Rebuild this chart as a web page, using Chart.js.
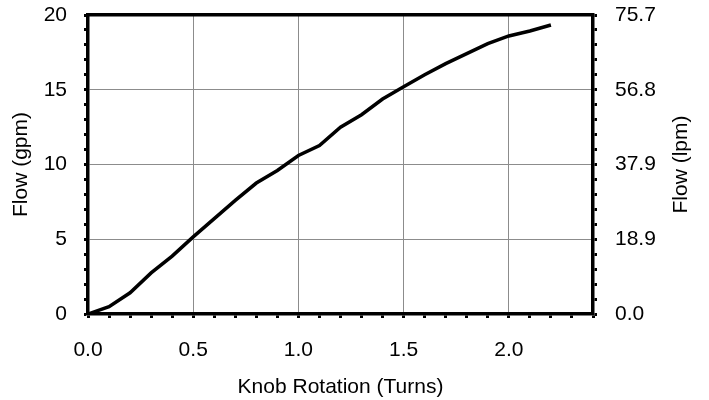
<!DOCTYPE html>
<html>
<head>
<meta charset="utf-8">
<script src="https://cdn.jsdelivr.net/npm/chart.js@4"></script>
<style>
  html, body { margin: 0; padding: 0; background: #fff; }
  #wrap { width: 709px; height: 400px; }
</style>
</head>
<body>
<div id="wrap"><canvas id="chart" width="709" height="400"></canvas></div>
<script>
const turns = [0.0, 0.1, 0.2, 0.3, 0.4, 0.5, 0.6, 0.7, 0.8, 0.9, 1.0, 1.1,
  1.2, 1.3, 1.4, 1.5, 1.6, 1.7, 1.8, 1.9, 2.0, 2.1, 2.2];
const flowGpm = [0, 0.49, 1.42, 2.75, 3.87, 5.16, 6.38, 7.6, 8.76, 9.6, 10.6, 11.27,
  12.49, 13.33, 14.38, 15.2, 16.0, 16.75, 17.42, 18.09, 18.6, 18.93, 19.33];
const lpmLabels = ["0.0", "18.9", "37.9", "56.8", "75.7"];
const rightTitle = "Flow (lpm)";

Chart.defaults.font.family = "'Liberation Sans', Arial, sans-serif";
Chart.defaults.font.size = 21;
Chart.defaults.color = "#000";

const isMajorX = v => Math.round(v * 10) % 5 === 0;
const isMajorY = v => Math.round(v) % 5 === 0;

const gridCommon = {
  drawTicks: true,
  tickLength: 4,
  tickWidth: 3,
  tickColor: "#000"
};

// no extra room for overflowing tick labels, the plot box is fixed
const noPad = s => { s.paddingTop = 0; s.paddingBottom = 0; s.paddingLeft = 0; s.paddingRight = 0; };

// right title reads bottom-to-top like the left one
const rightTitlePlugin = {
  id: "rightTitle",
  afterDraw(chart) {
    const { ctx, chartArea } = chart;
    ctx.save();
    ctx.translate(681, (chartArea.top + chartArea.bottom) / 2);
    ctx.rotate(-Math.PI / 2);
    ctx.font = "21px 'Liberation Sans', Arial, sans-serif";
    ctx.fillStyle = "#000";
    ctx.textAlign = "center";
    ctx.textBaseline = "middle";
    ctx.fillText(rightTitle, 0, 0);
    ctx.restore();
  }
};

new Chart(document.getElementById("chart").getContext("2d"), {
  type: "line",
  data: {
    datasets: [{
      data: turns.map((t, i) => ({ x: t, y: flowGpm[i] })),
      borderColor: "#000",
      borderWidth: 3.5,
      pointRadius: 0,
      tension: 0,
      fill: false
    }]
  },
  options: {
    responsive: false,
    animation: false,
    layout: { padding: 0 },
    plugins: { legend: { display: false }, tooltip: { enabled: false } },
    scales: {
      x: {
        type: "linear",
        position: "bottom",
        min: 0, max: 2.4,
        ticks: {
          stepSize: 0.1, autoSkip: false, maxRotation: 0, padding: 20,
          callback: v => isMajorX(v) ? v.toFixed(1) : ""
        },
        grid: {
          ...gridCommon,
          color: ctx => isMajorX(ctx.tick.value) ? "#8c8c8c" : "rgba(0,0,0,0)",
          lineWidth: 1
        },
        border: { color: "#000", width: 3.5 },
        title: { display: true, text: "Knob Rotation (Turns)", padding: { top: 2, bottom: 0 } },
        afterFit: s => { s.height = 86; noPad(s); }
      },
      xTop: {
        type: "linear",
        position: "top",
        min: 0, max: 2.4,
        ticks: { display: false },
        grid: { display: false },
        border: { color: "#000", width: 3.5 },
        afterFit: s => { s.height = 15; noPad(s); }
      },
      y: {
        position: "left",
        min: 0, max: 20,
        ticks: {
          stepSize: 1, autoSkip: false, padding: 17,
          callback: v => isMajorY(v) ? String(v) : ""
        },
        grid: {
          ...gridCommon,
          color: ctx => isMajorY(ctx.tick.value) ? "#8c8c8c" : "rgba(0,0,0,0)",
          lineWidth: 1
        },
        border: { color: "#000", width: 3.5 },
        title: { display: true, text: "Flow (gpm)", padding: { top: 9, bottom: 0 } },
        afterFit: s => { s.width = 88; noPad(s); }
      },
      y2: {
        position: "right",
        min: 0, max: 20,
        ticks: {
          stepSize: 1, autoSkip: false, padding: 18,
          callback: v => isMajorY(v) ? lpmLabels[Math.round(v) / 5] : ""
        },
        grid: { ...gridCommon, drawOnChartArea: false },
        border: { color: "#000", width: 3.5 },
        afterFit: s => { s.width = 116; noPad(s); }
      }
    }
  },
  plugins: [rightTitlePlugin]
});
</script>
</body>
</html>
